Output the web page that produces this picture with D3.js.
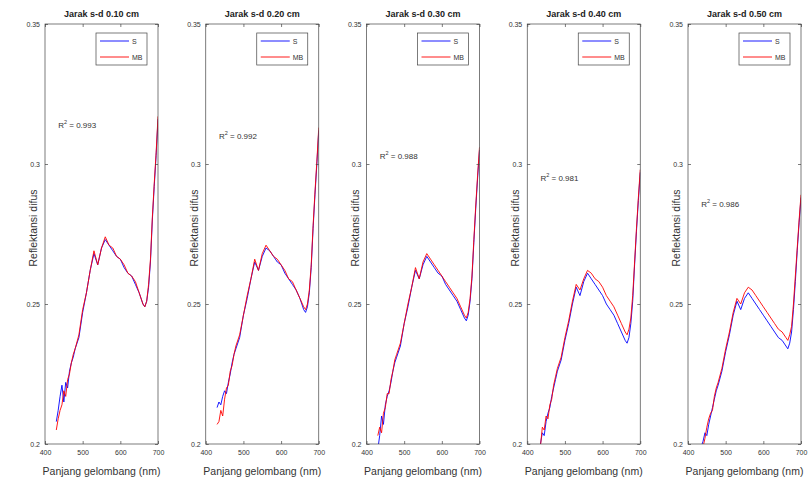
<!DOCTYPE html>
<html>
<head>
<meta charset="utf-8">
<script src="https://cdn.jsdelivr.net/npm/d3@7"></script>
<style>
  body { margin: 0; background: #fff; }
  svg { display: block; }
  text { font-family: "Liberation Sans", Arial, sans-serif; fill: #333; }
</style>
</head>
<body>
<div id="chart"></div>
<script>
'use strict';

// wavelength (nm) shared by every panel
var wavelengths = [430, 435, 440, 445, 450, 455, 460, 465, 470, 475, 480, 490, 500, 510, 520, 530, 540, 550, 560, 570,
                   580, 590, 600, 610, 620, 630, 640, 650, 660, 665, 670, 675, 680, 685, 690, 695, 700];

var titles = ["Jarak s-d 0.10 cm", "Jarak s-d 0.20 cm", "Jarak s-d 0.30 cm", "Jarak s-d 0.40 cm", "Jarak s-d 0.50 cm"];
var r2Values = ["0.993", "0.992", "0.988", "0.981", "0.986"];
var seriesNames = ["S", "MB"];
var xTicks = [400, 500, 600, 700];
var yTicks = [0.2, 0.25, 0.3, 0.35];

// series S (blue) per panel
var s010 = [0.208,0.212,0.217,0.221,0.215,0.222,0.220,0.226,0.229,0.231,0.234,0.238,0.247,0.254,0.262,0.268,0.264,0.270,0.273,0.271,0.269,0.267,0.266,0.263,0.261,0.260,0.257,0.254,0.250,0.249,0.251,0.256,0.265,0.280,0.292,0.303,0.316];
var s020 = [0.213,0.215,0.214,0.217,0.219,0.218,0.222,0.225,0.229,0.232,0.234,0.238,0.246,0.252,0.259,0.265,0.262,0.267,0.270,0.269,0.267,0.265,0.264,0.261,0.259,0.257,0.255,0.252,0.248,0.247,0.249,0.254,0.263,0.277,0.289,0.300,0.312];
var s030 = [0.198,0.203,0.210,0.207,0.214,0.217,0.219,0.222,0.226,0.229,0.231,0.235,0.243,0.249,0.256,0.262,0.259,0.264,0.267,0.265,0.263,0.261,0.260,0.257,0.255,0.253,0.251,0.248,0.245,0.244,0.246,0.251,0.259,0.272,0.284,0.295,0.305];
var s040 = [0.196,0.200,0.204,0.203,0.208,0.211,0.213,0.217,0.220,0.223,0.226,0.230,0.237,0.243,0.250,0.256,0.253,0.258,0.261,0.259,0.257,0.255,0.253,0.250,0.248,0.246,0.243,0.240,0.237,0.236,0.238,0.243,0.251,0.264,0.276,0.287,0.297];
var s050 = [0.197,0.199,0.201,0.204,0.203,0.207,0.210,0.213,0.216,0.219,0.221,0.226,0.233,0.239,0.246,0.251,0.248,0.252,0.254,0.252,0.250,0.248,0.246,0.244,0.242,0.240,0.238,0.237,0.235,0.234,0.236,0.240,0.248,0.258,0.269,0.279,0.288];

// series MB (red) per panel
var mb010 = [0.205,0.209,0.212,0.214,0.219,0.217,0.223,0.225,0.229,0.232,0.234,0.239,0.248,0.254,0.262,0.269,0.264,0.270,0.274,0.271,0.270,0.267,0.266,0.264,0.261,0.260,0.258,0.254,0.250,0.249,0.251,0.257,0.266,0.281,0.293,0.304,0.317];
var mb020 = [0.207,0.208,0.212,0.210,0.216,0.220,0.221,0.226,0.228,0.232,0.235,0.239,0.246,0.253,0.259,0.266,0.262,0.268,0.271,0.269,0.267,0.266,0.264,0.262,0.259,0.258,0.255,0.252,0.249,0.248,0.250,0.255,0.264,0.278,0.290,0.301,0.313];
var mb030 = [0.203,0.206,0.204,0.211,0.213,0.218,0.218,0.223,0.226,0.230,0.232,0.236,0.243,0.250,0.256,0.263,0.259,0.265,0.268,0.266,0.264,0.262,0.260,0.258,0.256,0.254,0.252,0.249,0.246,0.245,0.247,0.252,0.260,0.273,0.285,0.296,0.306];
var mb040 = [0.198,0.199,0.206,0.205,0.210,0.209,0.214,0.216,0.221,0.224,0.227,0.231,0.238,0.244,0.251,0.257,0.255,0.259,0.262,0.261,0.259,0.258,0.256,0.253,0.251,0.249,0.246,0.243,0.240,0.239,0.241,0.245,0.253,0.265,0.277,0.288,0.298];
var mb050 = [0.198,0.200,0.199,0.202,0.206,0.209,0.211,0.212,0.217,0.220,0.222,0.227,0.234,0.240,0.247,0.252,0.250,0.254,0.256,0.255,0.253,0.251,0.249,0.247,0.245,0.243,0.241,0.240,0.238,0.237,0.239,0.242,0.250,0.260,0.270,0.280,0.289];

var sSeries = [s010, s020, s030, s040, s050];
var mbSeries = [mb010, mb020, mb030, mb040, mb050];
var colors = ["#0000ff", "#ff0000"];

var svgWidth = 810, svgHeight = 479;
var svg = d3.select("#chart").append("svg")
    .attr("width", svgWidth)
    .attr("height", svgHeight);

var firstLeft = 45, pitch = 160.75, plotW = 113;
var plotTop = 24, plotBottom = 444;
var axisColor = "#444";

var y = d3.scaleLinear().domain([0.2, 0.35]).range([plotBottom, plotTop]);

titles.forEach(function(title, i) {
  var left = firstLeft + i * pitch;
  var x = d3.scaleLinear().domain([400, 700]).range([left, left + plotW]);
  var g = svg.append("g");

  // clip to axes
  g.append("clipPath").attr("id", "clip" + i)
    .append("rect")
    .attr("x", left).attr("y", plotTop)
    .attr("width", plotW).attr("height", plotBottom - plotTop);

  var line = d3.line()
    .x(function(d, k) { return x(wavelengths[k]); })
    .y(function(d) { return y(d); });

  var lines = g.append("g").attr("clip-path", "url(#clip" + i + ")");
  [sSeries[i], mbSeries[i]].forEach(function(vals, j) {
    lines.append("path")
      .datum(vals)
      .attr("fill", "none")
      .attr("stroke", colors[j])
      .attr("stroke-width", 0.9)
      .attr("stroke-linejoin", "round")
      .attr("d", line);
  });

  // axes, ticks pointing inward
  var xAxis = g.append("g")
    .attr("transform", "translate(0," + plotBottom + ")")
    .call(d3.axisBottom(x).tickValues(xTicks).tickSize(-3).tickPadding(6).tickFormat(d3.format("d")));
  var xTop = g.append("g")
    .attr("transform", "translate(0," + plotTop + ")")
    .call(d3.axisTop(x).tickValues(xTicks).tickSize(-3).tickFormat(""));
  var yAxis = g.append("g")
    .attr("transform", "translate(" + left + ",0)")
    .call(d3.axisLeft(y).tickValues(yTicks).tickSize(-3).tickPadding(5).tickFormat(function(d) { return d; }));
  var yRight = g.append("g")
    .attr("transform", "translate(" + (left + plotW) + ",0)")
    .call(d3.axisRight(y).tickValues(yTicks).tickSize(-3).tickFormat(""));

  [xAxis, xTop, yAxis, yRight].forEach(function(a) {
    a.select(".domain").remove();
    a.selectAll(".tick line").attr("stroke", axisColor).attr("stroke-width", 0.7);
    a.selectAll(".tick text")
      .attr("fill", "#333")
      .style("font-size", "7px")
      .style("font-family", "'Liberation Sans', Arial, sans-serif");
  });

  g.append("rect")
    .attr("x", left).attr("y", plotTop)
    .attr("width", plotW).attr("height", plotBottom - plotTop)
    .attr("fill", "none")
    .attr("stroke", axisColor)
    .attr("stroke-width", 0.7);

  // title
  g.append("text")
    .attr("x", left + plotW / 2).attr("y", 17)
    .attr("text-anchor", "middle")
    .style("font-size", "9px")
    .style("font-weight", "bold")
    .style("fill", "#222")
    .text(title);

  // axis labels
  g.append("text")
    .attr("x", left + plotW / 2).attr("y", 475)
    .attr("text-anchor", "middle")
    .style("font-size", "10.5px")
    .text("Panjang gelombang (nm)");

  g.append("text")
    .attr("transform", "translate(" + (left - 8) + "," + 228 + ") rotate(-90)")
    .attr("text-anchor", "middle")
    .style("font-size", "10.5px")
    .text("Reflektansi difus");

  // R^2 annotation, just below where the curve ends
  var last = sSeries[i][sSeries[i].length - 1];
  var r2 = g.append("text")
    .attr("x", x(435)).attr("y", y(last) + 9)
    .style("font-size", "8px");
  r2.append("tspan").text("R");
  r2.append("tspan").attr("dy", -4).style("font-size", "5.5px").text("2");
  r2.append("tspan").attr("dy", 4).text(" = " + r2Values[i]);

  // legend
  var lx = left + plotW - 62, ly = 33;
  var legend = g.append("g");
  legend.append("rect")
    .attr("x", lx).attr("y", ly)
    .attr("width", 51).attr("height", 32)
    .attr("fill", "#fff")
    .attr("stroke", axisColor)
    .attr("stroke-width", 0.7);
  seriesNames.forEach(function(name, j) {
    var ry = ly + 8 + j * 16;
    legend.append("line")
      .attr("x1", lx + 4).attr("x2", lx + 33)
      .attr("y1", ry).attr("y2", ry)
      .attr("stroke", colors[j])
      .attr("stroke-width", 0.9);
    legend.append("text")
      .attr("x", lx + 36).attr("y", ry + 2.5)
      .style("font-size", "7px")
      .text(name);
  });
});
</script>
</body>
</html>
